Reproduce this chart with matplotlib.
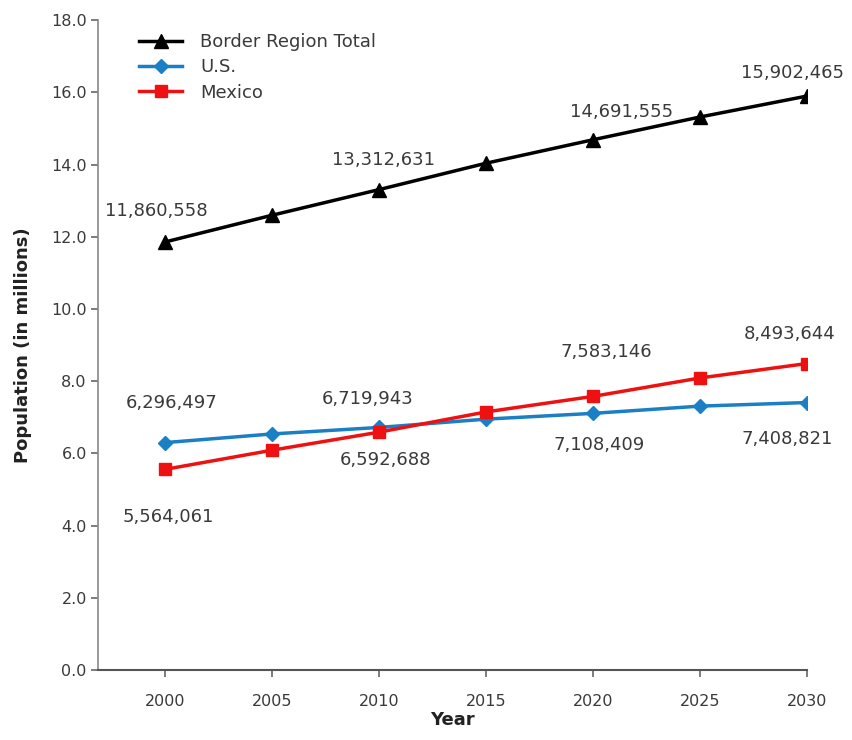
import matplotlib.pyplot as plt

years = [2000, 2005, 2010, 2015, 2020, 2025, 2030]
border_total = [11.86, 12.60, 13.31, 14.04, 14.69, 15.32, 15.90]
us = [6.30, 6.54, 6.72, 6.95, 7.11, 7.31, 7.41]
mexico = [5.56, 6.09, 6.59, 7.15, 7.58, 8.09, 8.49]

# labelled points: (year, value, text, x offset px, y offset px)
border_labels = [(2000, 11.86, "11,860,558", -9, 31),
                 (2010, 13.31, "13,312,631", 4, 30),
                 (2020, 14.69, "14,691,555", 29, 28),
                 (2030, 15.90, "15,902,465", -14, 23)]
us_labels = [(2000, 6.30, "6,296,497", 6, 40),
             (2010, 6.72, "6,719,943", -12, 28),
             (2020, 7.11, "7,108,409", 6, -32),
             (2030, 7.41, "7,408,821", -20, -36)]
mex_labels = [(2000, 5.56, "5,564,061", 3, -48),
              (2010, 6.59, "6,592,688", 6, -28),
              (2020, 7.58, "7,583,146", 13, 44),
              (2030, 8.49, "8,493,644", -17, 30)]

fig = plt.figure(figsize=(8.52, 7.4), dpi=100)
ax = fig.add_axes([0.115, 0.0946, 0.832, 0.878])

ax.plot(years, border_total, color="black", marker="^", markersize=10,
        linewidth=2.5, label="Border Region Total")
ax.plot(years, us, color="#1a7fc4", marker="D", markersize=7,
        linewidth=2.5, label="U.S.")
ax.plot(years, mexico, color="#ee1111", marker="s", markersize=9,
        linewidth=2.5, label="Mexico")

txt = "#3a3a3a"
for group in (border_labels, us_labels, mex_labels):
    for x, y, s, dx, dy in group:
        ax.annotate(s, (x, y), xytext=(dx, dy), textcoords="offset pixels",
                    ha="center", va="center", fontsize=13, color=txt)

ax.set_xlim(1996.85, 2030)
ax.set_ylim(0, 18)
ax.set_xticks(years)
ax.set_yticks([i * 2 for i in range(10)])
ax.set_yticklabels(["%.1f" % (i * 2) for i in range(10)])
ax.tick_params(colors="#666666", labelcolor=txt, labelsize=11.5, direction="out",
               length=5, width=1.2)
ax.tick_params(axis="x", pad=12)
ax.tick_params(axis="y", pad=3)
ax.spines["top"].set_visible(False)
ax.spines["right"].set_visible(False)
ax.spines["left"].set_color("#888888")
ax.spines["bottom"].set_color("#555555")
ax.spines["left"].set_linewidth(1.2)
ax.spines["bottom"].set_linewidth(1.5)

ax.set_xlabel("Year", fontsize=13, fontweight="bold", color="#222222", labelpad=2)
ax.set_ylabel("Population (in millions)", fontsize=13, fontweight="bold",
              color="#222222", labelpad=14)

ax.legend(loc="upper left", bbox_to_anchor=(0.035, 1.005), frameon=False,
          fontsize=13, handlelength=2.4, handletextpad=1.0, labelspacing=0.4,
          labelcolor=txt)

fig.savefig("out.png", dpi=100)
